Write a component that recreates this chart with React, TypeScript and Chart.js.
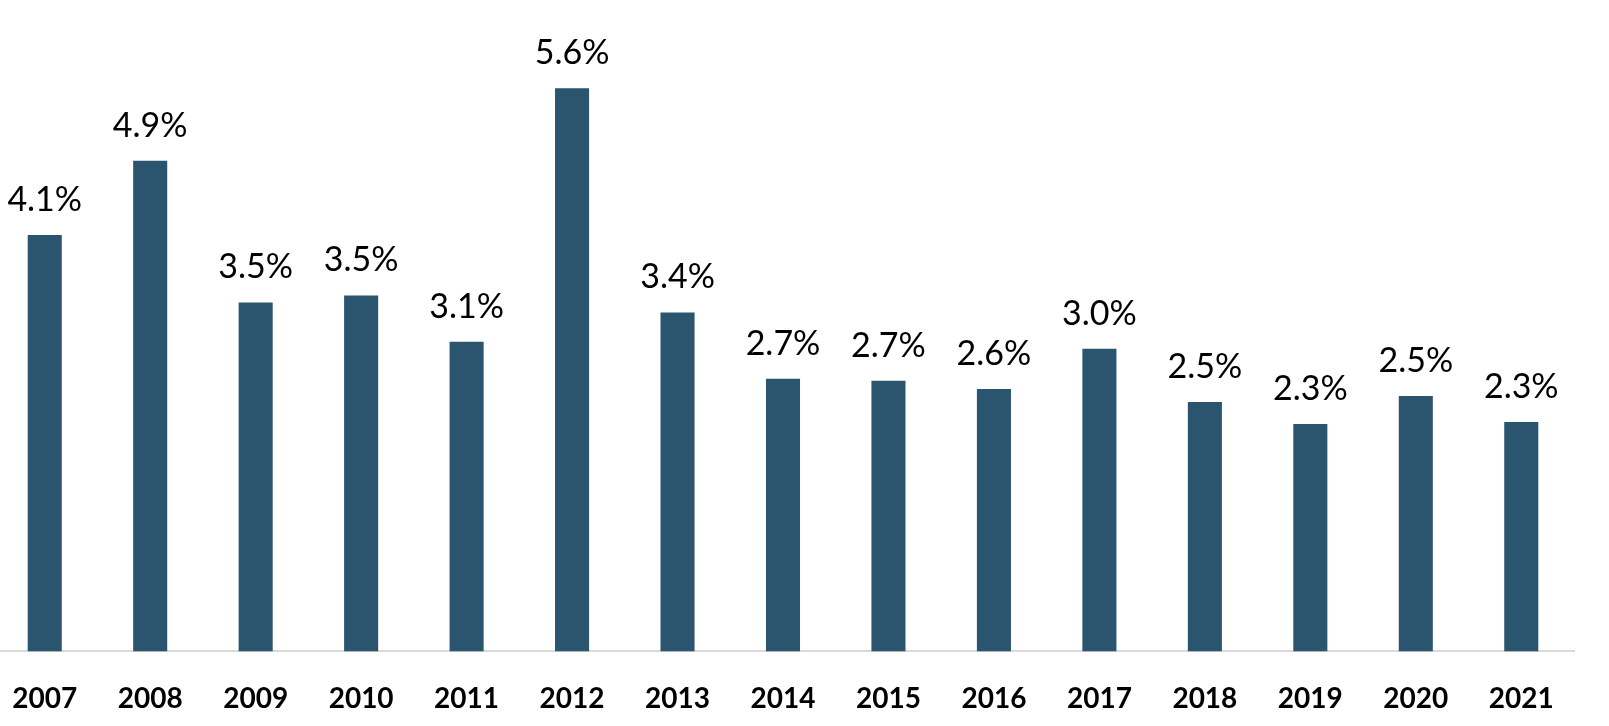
import React, { useEffect, useRef } from "react";
import { Chart, registerables } from "chart.js";

Chart.register(...registerables);

const years = ["2007", "2008", "2009", "2010", "2011", "2012", "2013", "2014", "2015", "2016", "2017", "2018", "2019", "2020", "2021"];
const rates = [4.14, 4.88, 3.47, 3.54, 3.08, 5.6, 3.37, 2.71, 2.69, 2.61, 3.01, 2.48, 2.26, 2.54, 2.28];

const BAR_COLOR = "#2b556e";
const FONT = "Lato, 'Open Sans', sans-serif";

const labelPlugin = {
  id: "barLabels",
  afterDatasetsDraw(chart: any) {
    const ctx = chart.ctx;
    const meta = chart.getDatasetMeta(0);
    ctx.save();
    ctx.font = `34px ${FONT}`;
    ctx.fillStyle = "#000";
    ctx.textAlign = "center";
    ctx.textBaseline = "alphabetic";
    meta.data.forEach((bar: any, i: number) => {
      ctx.fillText(rates[i].toFixed(1) + "%", bar.x, bar.y - 24);
    });
    ctx.restore();
  },
};

export default function App() {
  const ref = useRef<HTMLCanvasElement>(null);
  useEffect(() => {
    if (!ref.current) return;
    const chart = new Chart(ref.current, {
      type: "bar",
      data: {
        labels: years,
        datasets: [
          {
            data: rates,
            backgroundColor: BAR_COLOR,
            categoryPercentage: 1,
            barPercentage: 0.323,
          },
        ],
      },
      options: {
        animation: false,
        responsive: false,
        maintainAspectRatio: false,
        layout: { padding: { top: 48, left: 8, right: 35, bottom: 14 } },
        plugins: { legend: { display: false }, tooltip: { enabled: false } },
        scales: {
          x: {
            grid: { display: false, drawTicks: false },
            border: { display: true, color: "#d9d9d9", width: 2 },
            ticks: {
              color: "#000",
              padding: 27,
              maxRotation: 0,
              font: { family: FONT, size: 28, weight: "bold", lineHeight: 1.486 },
            },
          },
          y: {
            display: false,
            min: 0,
            max: 6,
          },
        },
      },
      plugins: [labelPlugin],
    });
    return () => chart.destroy();
  }, []);
  return (
    <div style={{ position: "fixed", left: 0, top: 0, width: 1609, height: 726, overflow: "hidden", background: "#fff" }}>
      <canvas ref={ref} width={1625} height={761} style={{ position: "absolute", left: -16, top: 0, width: 1625, height: 761 }} />
    </div>
  );
}
